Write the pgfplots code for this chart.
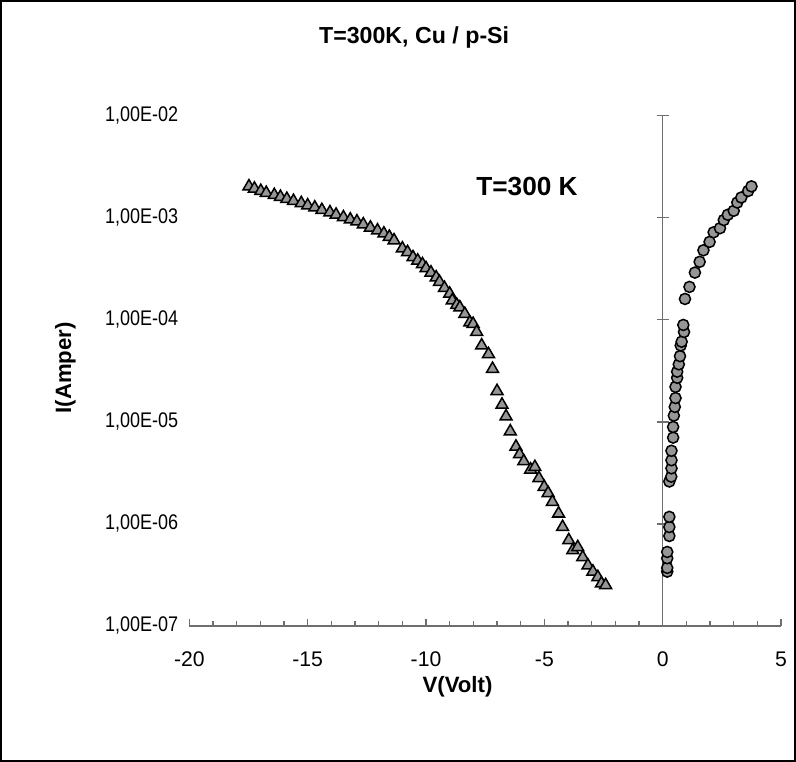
\documentclass[border=0pt]{standalone}
\usepackage{fontspec}
\setmainfont{Liberation Sans}
\newfontfamily\narrowfont[FakeStretch=0.85]{Liberation Sans}
\usepackage{pgfplots}
\pgfplotsset{compat=1.18}
\definecolor{markgray}{RGB}{150,150,150}
\definecolor{axgray}{RGB}{110,110,110}

\begin{document}
\begin{tikzpicture}
% chart frame
\draw[black, line width=0.8pt] (-93.5pt,-67pt) rectangle (300.5pt,310pt);

\begin{axis}[
    scale only axis,
    width=293.5pt, height=253pt,
    at={(0,0)}, anchor=south west,
    ymode=log,
    xmin=-20, xmax=5, ymin=1e-7, ymax=1e-2,
    axis x line*=bottom, axis y line*=left,
    y axis line style={draw=none},
    x axis line style={axgray, line width=0.7pt},
    xtick={-20,-15,-10,-5,0,5},
    minor xtick={-19,-18,-17,-16,-14,-13,-12,-11,-9,-8,-7,-6,-4,-3,-2,-1,1,2,3,4},
    xticklabels={-20,-15,-10,-5,0,5},
    xtick style={axgray, line width=0.7pt},
    tick align=inside,
    major tick length=3.5pt, minor tick length=2.2pt,
    ytick={1e-7,1e-6,1e-5,1e-4,1e-3,1e-2},
    yticklabels={{1,00E-07},{1,00E-06},{1,00E-05},{1,00E-04},{1,00E-03},{1,00E-02}},
    ytick style={draw=none},
    yminorticks=false,
    yticklabel style={font=\narrowfont\fontsize{10.5}{11}\selectfont, xshift=-2pt},
    xticklabel style={font=\fontsize{10.5}{11}\selectfont, yshift=-9.5pt},
    clip=false,
]
% vertical axis at V = 0 with crossing ticks
\draw[axgray, line width=0.7pt] (axis cs:0,1e-7) -- (axis cs:0,1e-2);
\draw[axgray, line width=0.7pt] ([xshift=-3pt]axis cs:0,1e-6) -- ([xshift=3pt]axis cs:0,1e-6);
\draw[axgray, line width=0.7pt] ([xshift=-3pt]axis cs:0,1e-5) -- ([xshift=3pt]axis cs:0,1e-5);
\draw[axgray, line width=0.7pt] ([xshift=-3pt]axis cs:0,1e-4) -- ([xshift=3pt]axis cs:0,1e-4);
\draw[axgray, line width=0.7pt] ([xshift=-3pt]axis cs:0,1e-3) -- ([xshift=3pt]axis cs:0,1e-3);
\draw[axgray, line width=0.7pt] ([xshift=-3pt]axis cs:0,1e-2) -- ([xshift=3pt]axis cs:0,1e-2);

% reverse bias
\addplot[only marks, mark=triangle*, mark size=3.4pt,
    mark options={fill=markgray, draw=black, line width=0.75pt}] coordinates {
    (-17.48,2.03e-3) (-17.25,1.93e-3) (-16.98,1.83e-3) (-16.75,1.75e-3)
    (-16.41,1.67e-3) (-16.15,1.60e-3) (-15.88,1.53e-3) (-15.60,1.46e-3)
    (-15.27,1.39e-3) (-15.00,1.32e-3) (-14.70,1.26e-3) (-14.40,1.19e-3)
    (-14.06,1.13e-3) (-13.80,1.07e-3) (-13.49,1.01e-3) (-13.20,9.6e-4)
    (-12.92,9.2e-4) (-12.65,8.6e-4) (-12.35,8.0e-4) (-12.05,7.5e-4)
    (-11.78,7.0e-4) (-11.55,6.5e-4) (-11.35,6.0e-4) (-11.00,5.0e-4)
    (-10.78,4.6e-4) (-10.55,4.1e-4) (-10.35,3.8e-4) (-10.15,3.5e-4)
    (-10.00,3.2e-4) (-9.79,2.9e-4) (-9.57,2.6e-4) (-9.43,2.35e-4)
    (-9.22,2.05e-4) (-9.00,1.8e-4) (-8.89,1.55e-4) (-8.70,1.40e-4)
    (-8.57,1.32e-4) (-8.36,1.14e-4) (-8.15,9.4e-5) (-8.01,9.1e-5)
    (-7.86,7.6e-5) (-7.65,5.6e-5) (-7.36,4.6e-5) (-7.19,3.3e-5)
    (-7.00,2.0e-5) (-6.79,1.47e-5) (-6.62,1.13e-5) (-6.44,8.05e-6)
    (-6.20,5.7e-6) (-6.05,4.8e-6) (-5.87,4.1e-6) (-5.58,3.4e-6)
    (-5.40,3.6e-6) (-5.23,2.8e-6) (-5.01,2.3e-6) (-4.84,2.0e-6)
    (-4.66,1.64e-6) (-4.40,1.26e-6) (-4.23,9.3e-7) (-3.97,6.9e-7)
    (-3.80,5.5e-7) (-3.59,5.9e-7) (-3.38,4.7e-7) (-3.16,3.9e-7)
    (-2.95,3.4e-7) (-2.74,3.0e-7) (-2.59,2.6e-7) (-2.41,2.5e-7)
};
% forward bias
\addplot[only marks, mark=*, mark size=2.75pt,
    mark options={fill=markgray, draw=black, line width=0.75pt}] coordinates {
    (0.19,3.4e-7) (0.19,3.7e-7) (0.19,4.6e-7) (0.19,5.3e-7)
    (0.28,7.6e-7) (0.28,9.3e-7) (0.28,1.17e-6) (0.28,2.6e-6)
    (0.36,2.9e-6) (0.37,3.5e-6) (0.37,4.2e-6) (0.37,5.2e-6)
    (0.44,7.0e-6) (0.44,8.9e-6) (0.47,1.15e-5) (0.51,1.4e-5)
    (0.54,1.71e-5) (0.54,2.2e-5) (0.61,2.7e-5) (0.61,3.1e-5)
    (0.68,3.66e-5) (0.73,4.4e-5) (0.76,5.6e-5) (0.80,6.1e-5)
    (0.90,7.6e-5) (0.87,8.9e-5) (0.94,1.6e-4) (1.13,2.1e-4)
    (1.36,2.9e-4) (1.56,3.7e-4) (1.72,4.8e-4) (1.98,5.8e-4)
    (2.15,7.2e-4) (2.42,7.9e-4) (2.58,9.5e-4) (2.75,1.07e-3)
    (3.00,1.17e-3) (3.15,1.41e-3) (3.32,1.58e-3) (3.61,1.83e-3)
    (3.75,2.03e-3)
};
\end{axis}

\node[font=\bfseries\fontsize{11.5}{13}\selectfont] at (111.5pt,292pt) {T=300K, Cu / p-Si};
\node[font=\bfseries\fontsize{13}{15}\selectfont] at (167.5pt,218pt) {T=300 K};
\node[font=\bfseries\fontsize{11}{13}\selectfont] at (133pt,-30pt) {V(Volt)};
\node[font=\bfseries\fontsize{11}{13}\selectfont, rotate=90] at (-61.5pt,128pt) {I(Amper)};
\end{tikzpicture}
\end{document}
